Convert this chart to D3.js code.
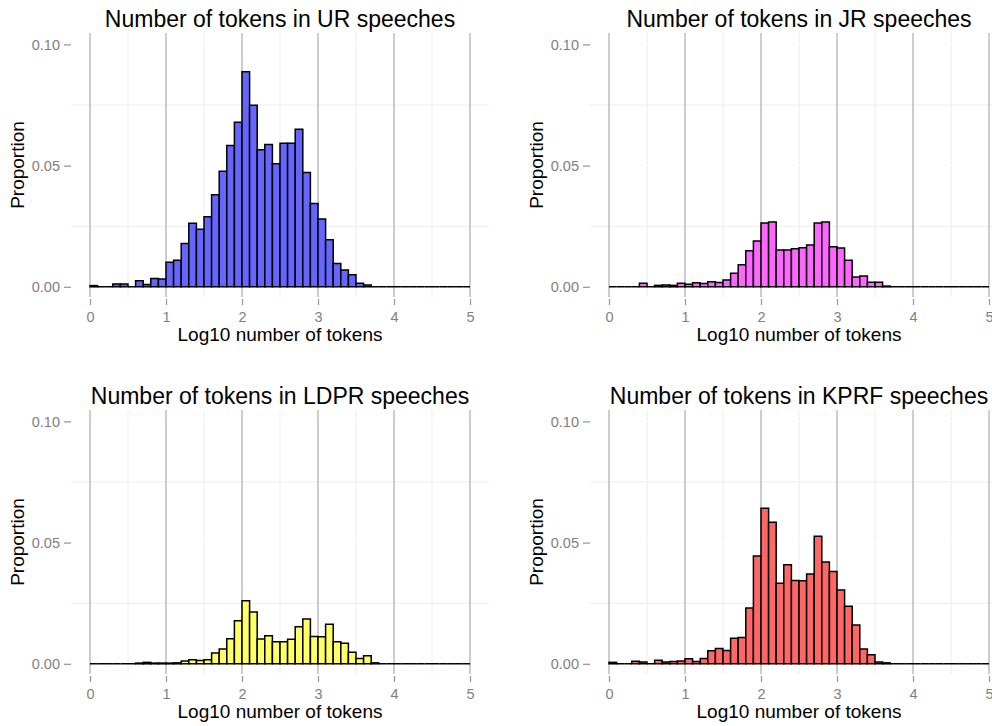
<!DOCTYPE html>
<html>
<head>
<meta charset="utf-8">
<script src="https://cdn.jsdelivr.net/npm/d3@7"></script>
<style>
  body { margin: 0; background: #fff; }
  svg { display: block; font-family: "Liberation Sans", Arial, Helvetica, sans-serif; }
</style>
</head>
<body>
<svg id="chart" width="992" height="726"></svg>
<script>
// histogram bins: 50 bins of 0.1 on log10 scale, starting at 0
const binStart = 0;
const binWidth = 0.1;

const urValues = [
    0.0005, 0, 0, 0.0012, 0.0012, 0, 0.0025, 0.001, 0.0034, 0.0032,
    0.0101, 0.011, 0.0179, 0.0262, 0.0237, 0.0289, 0.038, 0.0477, 0.0583, 0.0679,
    0.0887, 0.0749, 0.0565, 0.0587, 0.0508, 0.0592, 0.0592, 0.065, 0.0472, 0.0344,
    0.028, 0.0194, 0.0096, 0.0069, 0.005, 0.0015, 0.0007, 0, 0, 0,
    0, 0, 0, 0, 0, 0, 0, 0, 0, 0
];
const jrValues = [
    0, 0, 0, 0, 0.0015, 0, 0.0006, 0.0008, 0.0006, 0.0015,
    0.0011, 0.0017, 0.0014, 0.0021, 0.0018, 0.0028, 0.0056, 0.0091, 0.0149, 0.0189,
    0.0263, 0.0267, 0.0152, 0.0152, 0.0157, 0.0161, 0.0172, 0.0263, 0.0267, 0.0165,
    0.016, 0.011, 0.004, 0.0045, 0.0019, 0.0019, 0.0003, 0, 0, 0,
    0, 0, 0, 0, 0, 0, 0, 0, 0, 0
];
const ldprValues = [
    0, 0, 0, 0, 0, 0, 0.0003, 0.0006, 0.0003, 0.0003,
    0.0003, 0.0004, 0.0012, 0.0017, 0.0014, 0.0017, 0.0045, 0.0061, 0.0103, 0.0178,
    0.026, 0.0214, 0.0102, 0.0116, 0.0091, 0.0091, 0.0101, 0.0153, 0.0185, 0.0113,
    0.0112, 0.0163, 0.0091, 0.0085, 0.0048, 0.0022, 0.0033, 0.0004, 0, 0,
    0, 0, 0, 0, 0, 0, 0, 0, 0, 0
];
const kprfValues = [
    0.0006, 0, 0, 0.0011, 0.0008, 0, 0.0015, 0.0008, 0.001, 0.0012,
    0.0021, 0.001, 0.0022, 0.0054, 0.0063, 0.0055, 0.0105, 0.0109, 0.023, 0.0445,
    0.0642, 0.0584, 0.0332, 0.0409, 0.0344, 0.0343, 0.0371, 0.0526, 0.042, 0.0381,
    0.0304, 0.0237, 0.016, 0.0061, 0.0037, 0.0007, 0.0004, 0, 0, 0,
    0, 0, 0, 0, 0, 0, 0, 0, 0, 0
];

const parties = ['UR', 'JR', 'LDPR', 'KPRF'];
const partyValues = [urValues, jrValues, ldprValues, kprfValues];
const partyColors = ['#6666ff', '#ff66ff', '#ffff66', '#ff6666'];

const xTicks = [0, 1, 2, 3, 4, 5];
const xMinorTicks = [0.5, 1.5, 2.5, 3.5, 4.5];
const yTicks = [0, 0.05, 0.10];
const yMinorTicks = [0.025, 0.075];

const svg = d3.select('#chart');

// panel layout (2 x 2)
const colLeft = [71, 590];
const rowTop = [33, 410];
const panelW = 418;
const panelH = 264;

parties.forEach((party, i) => {
    const values = partyValues[i];
    const left = colLeft[i % 2];
    const top = rowTop[Math.floor(i / 2)];

    const x = d3.scaleLinear().domain([-0.25, 5.25]).range([left, left + panelW]);
    const y = d3.scaleLinear().domain([-0.0042, 0.1047]).range([top + panelH, top]);

    const g = svg.append('g');

    // minor grid
    g.selectAll('.vminor').data(xMinorTicks).enter().append('line')
        .attr('x1', (d) => x(d)).attr('x2', (d) => x(d))
        .attr('y1', top).attr('y2', top + panelH)
        .attr('stroke', '#ececec').attr('stroke-width', 1);
    g.selectAll('.hminor').data(yMinorTicks).enter().append('line')
        .attr('x1', left).attr('x2', left + panelW)
        .attr('y1', (d) => y(d)).attr('y2', (d) => y(d))
        .attr('stroke', '#ececec').attr('stroke-width', 1);
    // major grid: horizontal white, vertical grey
    g.selectAll('.hmajor').data(yTicks).enter().append('line')
        .attr('x1', left).attr('x2', left + panelW)
        .attr('y1', (d) => y(d)).attr('y2', (d) => y(d))
        .attr('stroke', '#ffffff').attr('stroke-width', 1.5);
    g.selectAll('.vmajor').data(xTicks).enter().append('line')
        .attr('x1', (d) => x(d)).attr('x2', (d) => x(d))
        .attr('y1', top).attr('y2', top + panelH)
        .attr('stroke', '#bdbdbd').attr('stroke-width', 1.5);

    // bars (paths so that empty bins still draw their outline)
    g.selectAll('.bar').data(values).enter().append('path')
        .attr('d', (d, k) => {
            const x0 = x(binStart + k * binWidth);
            const x1 = x(binStart + (k + 1) * binWidth);
            const y0 = y(0);
            const y1 = y(d);
            return `M${x0},${y0}V${y1}H${x1}V${y0}Z`;
        })
        .attr('fill', partyColors[i])
        .attr('stroke', '#000')
        .attr('stroke-width', 1.5)
        .attr('stroke-linejoin', 'miter');

    // axes
    const yAxis = d3.axisLeft(y).tickValues(yTicks).tickFormat(d3.format('.2f'))
        .tickSize(7).tickPadding(4);
    const ya = svg.append('g').attr('transform', `translate(${left},0)`).call(yAxis);
    const xAxis = d3.axisBottom(x).tickValues(xTicks).tickFormat(d3.format('d'))
        .tickSize(6).tickPadding(7);
    const xa = svg.append('g').attr('transform', `translate(0,${top + panelH + 2})`).call(xAxis);
    [ya, xa].forEach((a) => {
        a.select('.domain').remove();
        a.selectAll('line').attr('stroke', '#9a9a9a').attr('stroke-width', 1.3);
        a.selectAll('text').attr('fill', '#7f7f7f').style('font-size', '14.5px')
            .style('font-family', '"Liberation Sans", Arial, sans-serif');
    });

    // titles
    svg.append('text')
        .attr('x', left + panelW / 2).attr('y', top - 6)
        .attr('text-anchor', 'middle')
        .style('font-size', '23px')
        .text(`Number of tokens in ${party} speeches`);
    svg.append('text')
        .attr('x', left + panelW / 2).attr('y', top + panelH + 44)
        .attr('text-anchor', 'middle')
        .style('font-size', '19px')
        .text('Log10 number of tokens');
    svg.append('text')
        .attr('transform', `translate(${left - 47},${top + panelH / 2}) rotate(-90)`)
        .attr('text-anchor', 'middle')
        .style('font-size', '19px')
        .text('Proportion');
});
</script>
</body>
</html>
